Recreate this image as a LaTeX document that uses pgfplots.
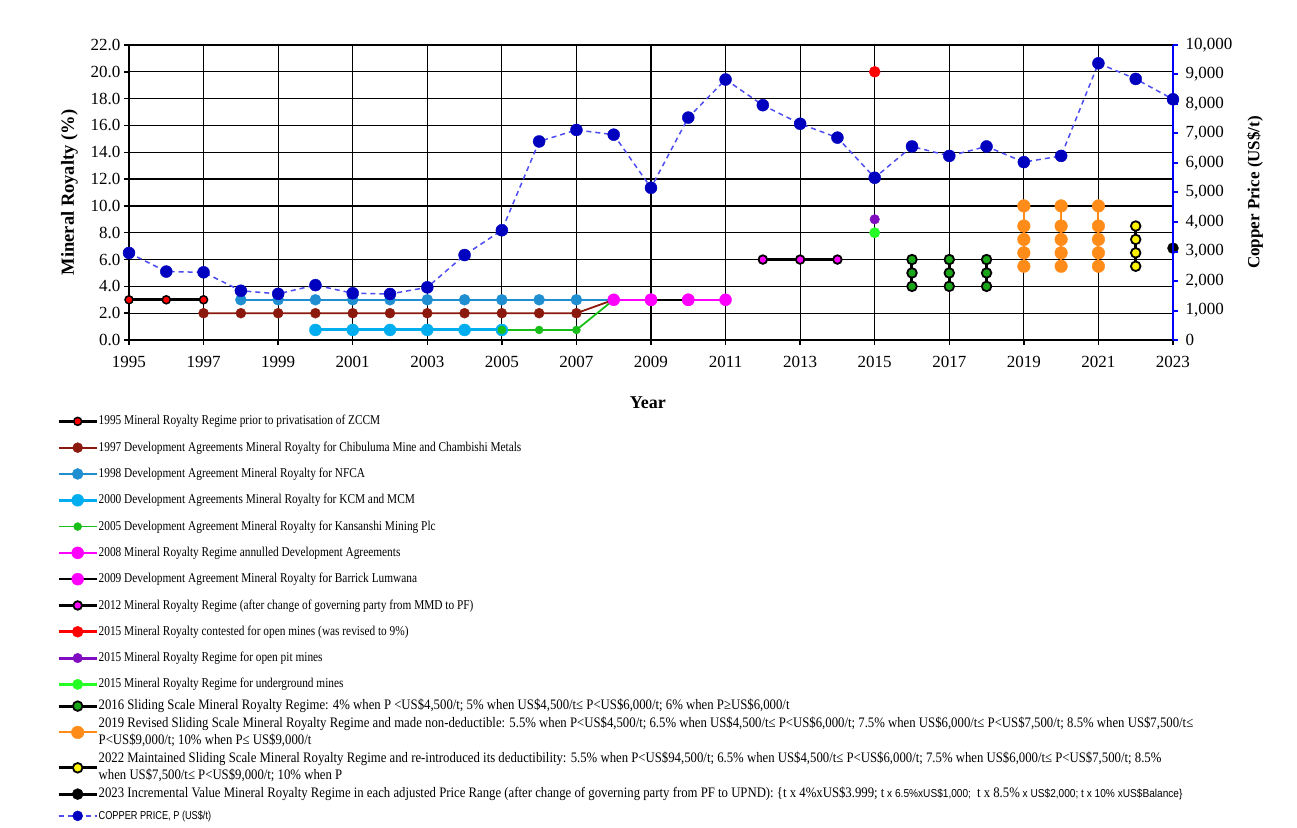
\documentclass[border=0pt]{standalone}
\usepackage{fontspec}
\setmainfont{Liberation Serif}
\setsansfont{Liberation Sans}
\usepackage{graphicx}
\usepackage{pgfplots}
\pgfplotsset{compat=1.18}
\definecolor{brownS}{rgb}{0.55,0.10,0.05}
\definecolor{blueS}{rgb}{0.12,0.56,0.82}
\definecolor{greenS}{rgb}{0.10,0.75,0.10}
\definecolor{purpleS}{rgb}{0.50,0.05,0.75}
\definecolor{lgreenS}{rgb}{0.15,1.00,0.15}
\definecolor{dgreenS}{rgb}{0.10,0.65,0.10}
\definecolor{orangeS}{rgb}{1.00,0.55,0.10}
\definecolor{magS}{rgb}{1.00,0.00,1.00}
\definecolor{copperL}{rgb}{0.30,0.30,0.95}
\definecolor{copperM}{rgb}{0.00,0.00,0.75}
\newcommand{\rowA}{\rule[-9.1pt]{0pt}{25.3pt}}
\newcommand{\rowB}{\rule[-4.6pt]{0pt}{16.2pt}}
\newcommand{\rowC}{\rule[-5.1pt]{0pt}{17.2pt}}
\newcommand{\lgA}[1]{\rowA\scalebox{0.84}[1]{\fontsize{13.5}{15}\selectfont #1}}
\newcommand{\lgB}[1]{\rowB\scalebox{0.88}[1]{\fontsize{14.5}{16}\selectfont #1}}
\newcommand{\sfs}{\sffamily\fontsize{11.5}{13}\selectfont}
\begin{document}
\begin{tikzpicture}
\useasboundingbox (-129pt,-487pt) rectangle (1168pt,340pt);
\clip (-129pt,-487pt) rectangle (1168pt,340pt);
\begin{axis}[
  scale only axis, width=1044pt, height=295pt,
  xmin=1995, xmax=2023, ymin=0, ymax=22,
  xtick={1995,1997,...,2023}, ytick={0,2,...,22},
  xtick pos=bottom, ytick pos=left,
  tick align=outside, major tick length=5pt,
  tick style={black, line width=1.5pt},
  grid=major, major grid style={black, line width=1.2pt},
  axis line style={black, line width=2pt},
  /pgf/number format/assume math mode=true,
  tick label style={font=\fontsize{17}{17}\selectfont},
  xticklabel style={/pgf/number format/1000 sep={}, yshift=-8pt},
  yticklabel style={/pgf/number format/.cd, fixed, fixed zerofill, precision=1},
  xlabel={\bfseries Year},
  xlabel style={font=\fontsize{18}{18}\selectfont, at={(axis description cs:0.497,-0.2136)}, anchor=center},
  ylabel={\bfseries Mineral Royalty (\%)},
  ylabel style={font=\fontsize{18.5}{18.5}\selectfont, at={(axis description cs:-0.057,0.5)}, anchor=center},
  clip=false,
  unbounded coords=jump,
  legend image code/.code={\draw[mark repeat=2,mark phase=2,#1] plot coordinates {(0pt,0pt) (19pt,0pt) (38pt,0pt)};},
  legend cell align=left,
  legend style={draw=none, fill=none, inner sep=0pt, row sep=0pt,
    at={(-0.06897,-0.2305)}, anchor=north west,
    font=\fontsize{11.3}{13.5}\selectfont,
    nodes={inner sep=0.5pt, text depth=}},
]
% 1995
\addplot[black, line width=3pt, mark=*, mark size=4pt, mark options={fill=red, draw=black, line width=1.5pt}]
  coordinates {(1995,3) (1996,3) (1997,3)};
\addlegendentry{\lgA{1995 Mineral Royalty Regime prior to privatisation of ZCCM}}
% 1997
\addplot[brownS, line width=1.8pt, mark=*, mark size=5pt, mark options={fill=brownS, draw=brownS, line width=0.4pt}]
  coordinates {(1997,2) (1998,2) (1999,2) (2000,2) (2001,2) (2002,2) (2003,2) (2004,2) (2005,2) (2006,2) (2007,2) (2008,3)};
\addlegendentry{\lgA{1997 Development Agreements Mineral Royalty for Chibuluma Mine and Chambishi Metals}}
% 1998
\addplot[blueS, line width=1.8pt, mark=*, mark size=5.5pt, mark options={fill=blueS, draw=blueS, line width=0.4pt}]
  coordinates {(1998,3) (1999,3) (2000,3) (2001,3) (2002,3) (2003,3) (2004,3) (2005,3) (2006,3) (2007,3) (2008,3)};
\addlegendentry{\lgA{1998 Development Agreement Mineral Royalty for NFCA}}
% 2000
\addplot[cyan, line width=3pt, mark=*, mark size=6pt, mark options={fill=cyan, draw=cyan, line width=0.4pt}]
  coordinates {(2000,0.75) (2001,0.75) (2002,0.75) (2003,0.75) (2004,0.75) (2005,0.75)};
\addlegendentry{\lgA{2000 Development Agreements Mineral Royalty for KCM and MCM}}
% 2005
\addplot[greenS, line width=1.8pt, mark=*, mark size=4pt, mark options={fill=greenS, draw=greenS, line width=0.4pt}]
  coordinates {(2005,0.75) (2006,0.75) (2007,0.75) (2008,3)};
\addlegendentry{\lgA{2005 Development Agreement Mineral Royalty for Kansanshi Mining Plc}}
% 2008
\addplot[magS, line width=2.5pt, mark=*, mark size=6pt, mark options={fill=magS, draw=magS, line width=0.4pt}]
  coordinates {(2008,3) (2009,3) (2010,3) (2011,3)};
\addlegendentry{\lgA{2008 Mineral Royalty Regime annulled Development Agreements}}
% 2009
\addplot[black, line width=1.5pt, mark=*, mark size=6pt, mark options={fill=magS, draw=magS, line width=0.4pt}]
  coordinates {(2009,3) (2010,3)};
\addlegendentry{\lgA{2009 Development Agreement Mineral Royalty for Barrick Lumwana}}
% 2012
\addplot[black, line width=3pt, mark=*, mark size=4.3pt, mark options={fill=magS, draw=black, line width=1.8pt}]
  coordinates {(2012,6) (2013,6) (2014,6)};
\addlegendentry{\lgA{2012 Mineral Royalty Regime (after change of governing party from MMD to PF)}}
% 2015 contested
\addplot[red, line width=3pt, mark=*, mark size=5.5pt, mark options={fill=red, draw=red, line width=0.4pt}]
  coordinates {(2015,20)};
\addlegendentry{\lgA{2015 Mineral Royalty contested for open mines (was revised to 9\%)}}
% 2015 open pit
\addplot[purpleS, line width=3pt, mark=*, mark size=4.8pt, mark options={fill=purpleS, draw=purpleS, line width=0.4pt}]
  coordinates {(2015,9)};
\addlegendentry{\lgA{2015 Mineral Royalty Regime for open pit mines}}
% 2015 underground
\addplot[lgreenS, line width=3pt, mark=*, mark size=5.2pt, mark options={fill=lgreenS, draw=lgreenS, line width=0.4pt}]
  coordinates {(2015,8)};
\addlegendentry{\lgA{2015 Mineral Royalty Regime for underground mines}}
% 2016
\addplot[black, line width=3pt, mark=*, mark size=4.8pt, mark options={fill=dgreenS, draw=black, line width=1.8pt}]
  coordinates {(2016,4) (2016,5) (2016,6) (2016,nan) (2017,4) (2017,5) (2017,6) (2017,nan) (2018,4) (2018,5) (2018,6)};
\addlegendentry{\lgB{2016 Sliding Scale Mineral Royalty Regime: 4\% when P <US\$4,500/t; 5\% when US\$4,500/t≤ P<US\$6,000/t; 6\% when P≥US\$6,000/t}}
% 2019
\addplot[orangeS, line width=2pt, mark=*, mark size=6.3pt, mark options={fill=orangeS, draw=orangeS, line width=0.4pt}]
  coordinates {(2019,5.5) (2019,6.5) (2019,7.5) (2019,8.5) (2019,10) (2019,nan)
               (2020,5.5) (2020,6.5) (2020,7.5) (2020,8.5) (2020,10) (2020,nan)
               (2021,5.5) (2021,6.5) (2021,7.5) (2021,8.5) (2021,10)};
\addlegendentry{\scalebox{0.88}[1]{\fontsize{14.5}{16}\selectfont\begin{tabular}{@{}l@{}}\rowC 2019 Revised Sliding Scale Mineral Royalty Regime and made non-deductible: 5.5\% when P<US\$4,500/t; 6.5\% when US\$4,500/t≤ P<US\$6,000/t; 7.5\% when US\$6,000/t≤ P<US\$7,500/t; 8.5\% when US\$7,500/t≤\\ \rowC P<US\$9,000/t; 10\% when P≤ US\$9,000/t\end{tabular}}}
% 2022
\addplot[black, line width=3pt, mark=*, mark size=4.8pt, mark options={fill=yellow, draw=black, line width=1.8pt}]
  coordinates {(2022,5.5) (2022,6.5) (2022,7.5) (2022,8.5)};
\addlegendentry{\scalebox{0.88}[1]{\fontsize{14.5}{16}\selectfont\begin{tabular}{@{}l@{}}\rowC 2022 Maintained Sliding Scale Mineral Royalty Regime and re-introduced its deductibility: 5.5\% when P<US\$94,500/t; 6.5\% when US\$4,500/t≤ P<US\$6,000/t; 7.5\% when US\$6,000/t≤ P<US\$7,500/t; 8.5\%\\ \rowC when US\$7,500/t≤ P<US\$9,000/t; 10\% when P\end{tabular}}}
% 2023
\addplot[black, line width=3pt, mark=*, mark size=5.5pt, mark options={fill=black, draw=black, line width=0.4pt}]
  coordinates {(2023,6.85)};
\addlegendentry{\lgB{2023 Incremental Value Mineral Royalty Regime in each adjusted Price Range (after change of governing party from PF to UPND): \{t x 4\%xUS\$3.999; t{\sfs\ x 6.5\%xUS\$1,000;\ } t x 8.5\%{\sfs\ x US\$2,000; t x 10\% xUS\$Balance\}}}}
% copper legend image
\addlegendimage{copperL, line width=1.5pt, dash pattern=on 5pt off 4pt, mark=*, mark size=5pt, mark options={fill=copperM, draw=copperM, solid, line width=0.4pt}}
\addlegendentry{\rowA\scalebox{0.8}[1]{\sffamily\fontsize{11.5}{13}\selectfont COPPER PRICE, P (US\$/t)}}
\end{axis}
\begin{axis}[
  scale only axis, width=1044pt, height=295pt,
  xmin=1995, xmax=2023, ymin=0, ymax=10000,
  axis x line=none, axis y line*=right,
  y axis line style={blue, line width=2pt},
  ytick={0,1000,...,10000},
  tick align=outside, major tick length=5pt,
  ytick style={blue, line width=2pt},
  scaled y ticks=false,
  /pgf/number format/assume math mode=true,
  tick label style={font=\fontsize{17}{17}\selectfont},
  yticklabel style={/pgf/number format/.cd, fixed, 1000 sep={,}, /tikz/xshift=4pt},
  ylabel={\bfseries Copper Price (US\$/t)},
  ylabel style={font=\fontsize{17}{17}\selectfont, at={(axis description cs:1.0785,0.5)}, anchor=center},
  clip=false,
]
\addplot[copperL, line width=1.5pt, dash pattern=on 5pt off 4pt, mark=*, mark size=6pt, mark options={fill=copperM, draw=copperM, solid, line width=0.4pt}]
  coordinates {(1995,2950) (1996,2320) (1997,2295) (1998,1670) (1999,1565) (2000,1860)
  (2001,1585) (2002,1560) (2003,1785) (2004,2880) (2005,3720) (2006,6730) (2007,7120)
  (2008,6960) (2009,5160) (2010,7540) (2011,8830) (2012,7960) (2013,7330) (2014,6860)
  (2015,5500) (2016,6560) (2017,6240) (2018,6560) (2019,6030) (2020,6240) (2021,9380)
  (2022,8850) (2023,8160)};
\end{axis}
\end{tikzpicture}
\end{document}
